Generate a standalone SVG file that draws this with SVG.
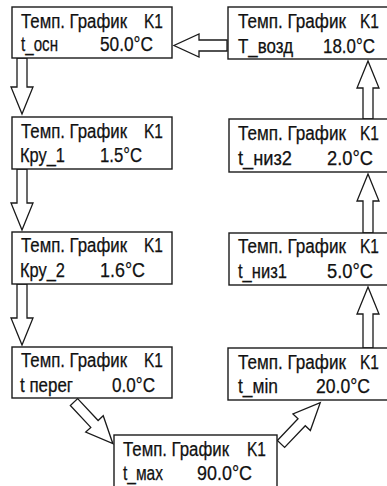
<svg xmlns="http://www.w3.org/2000/svg" width="387" height="486" viewBox="0 0 387 486">
<defs>
<style>
.box{fill:#fff;stroke:#1a1a1a;stroke-width:1.4}
.t{font-family:"Liberation Sans",Arial,sans-serif;font-size:19.5px;fill:#111;stroke:#111;stroke-width:0.25}
.ar{fill:#fff;stroke:#1a1a1a;stroke-width:1.3;stroke-linejoin:miter}
</style>
<path id="darr" d="M0,-5 L30,-5 L30,-12 L57,0 L30,12 L30,5 L0,5 Z"/>
</defs>
<rect width="387" height="486" fill="#fff"/>
<g id="connectors">
<polygon class="ar" points="17,58 27,58 27,87 33,87 22,114 11,87 17,87"/>
<polygon class="ar" points="17,169 27,169 27,203 33,203 22,230 11,203 17,203"/>
<polygon class="ar" points="17,284 27,284 27,318 33,318 22,345 11,318 17,318"/>
<polygon class="ar" points="363,119 373,119 373,88 379,88 368,61 357,88 363,88"/>
<polygon class="ar" points="363,233 373,233 373,201 379,201 368,174 357,201 363,201"/>
<polygon class="ar" points="363,348 373,348 373,314 379,314 368,287 357,314 363,314"/>
<polygon class="ar" points="227,40 199,40 199,34 174,45.5 199,57 199,51 227,51"/>
<use href="#darr" class="ar" transform="translate(74,402) rotate(47)"/>
<use href="#darr" class="ar" transform="translate(281,444) rotate(-46.5)"/>
</g>
<g id="n_tosn">
<rect class="box" x="12" y="7" width="160" height="51"/>
<text class="t" x="21" y="28" textLength="106" lengthAdjust="spacingAndGlyphs">Темп. График</text>
<text class="t" x="144" y="28" textLength="19" lengthAdjust="spacingAndGlyphs">K1</text>
<text class="t" x="21" y="51" textLength="37" lengthAdjust="spacingAndGlyphs">t_осн</text>
<text class="t" x="100" y="51" textLength="53" lengthAdjust="spacingAndGlyphs">50.0°C</text>
</g>
<g id="n_kru1">
<rect class="box" x="12" y="117" width="160" height="52"/>
<text class="t" x="21" y="138" textLength="106" lengthAdjust="spacingAndGlyphs">Темп. График</text>
<text class="t" x="144" y="138" textLength="19" lengthAdjust="spacingAndGlyphs">K1</text>
<text class="t" x="20" y="162" textLength="45" lengthAdjust="spacingAndGlyphs">Кру_1</text>
<text class="t" x="100" y="162" textLength="42" lengthAdjust="spacingAndGlyphs">1.5°C</text>
</g>
<g id="n_kru2">
<rect class="box" x="12" y="232" width="160" height="52"/>
<text class="t" x="21" y="252" textLength="106" lengthAdjust="spacingAndGlyphs">Темп. График</text>
<text class="t" x="144" y="252" textLength="19" lengthAdjust="spacingAndGlyphs">K1</text>
<text class="t" x="20" y="277" textLength="45" lengthAdjust="spacingAndGlyphs">Кру_2</text>
<text class="t" x="100" y="277" textLength="45" lengthAdjust="spacingAndGlyphs">1.6°C</text>
</g>
<g id="n_tpereg">
<rect class="box" x="12" y="347" width="160" height="51"/>
<text class="t" x="21" y="367" textLength="106" lengthAdjust="spacingAndGlyphs">Темп. График</text>
<text class="t" x="144" y="367" textLength="19" lengthAdjust="spacingAndGlyphs">K1</text>
<text class="t" x="20" y="392" textLength="53" lengthAdjust="spacingAndGlyphs">t перег</text>
<text class="t" x="112" y="392" textLength="43" lengthAdjust="spacingAndGlyphs">0.0°C</text>
</g>
<g id="n_tmax">
<rect class="box" x="114" y="435" width="163" height="60"/>
<text class="t" x="123" y="456" textLength="106" lengthAdjust="spacingAndGlyphs">Темп. График</text>
<text class="t" x="247" y="456" textLength="19" lengthAdjust="spacingAndGlyphs">K1</text>
<text class="t" x="123" y="480" textLength="40" lengthAdjust="spacingAndGlyphs">t_мах</text>
<text class="t" x="197" y="480" textLength="55" lengthAdjust="spacingAndGlyphs">90.0°C</text>
</g>
<g id="n_tmin">
<rect class="box" x="228" y="348" width="165" height="52"/>
<text class="t" x="238" y="369" textLength="108" lengthAdjust="spacingAndGlyphs">Темп. График</text>
<text class="t" x="360" y="369" textLength="19" lengthAdjust="spacingAndGlyphs">K1</text>
<text class="t" x="238" y="393" textLength="40" lengthAdjust="spacingAndGlyphs">t_мin</text>
<text class="t" x="316" y="393" textLength="54" lengthAdjust="spacingAndGlyphs">20.0°C</text>
</g>
<g id="n_tniz1">
<rect class="box" x="229" y="233" width="164" height="52"/>
<text class="t" x="238" y="253" textLength="108" lengthAdjust="spacingAndGlyphs">Темп. График</text>
<text class="t" x="360" y="253" textLength="19" lengthAdjust="spacingAndGlyphs">K1</text>
<text class="t" x="238" y="278" textLength="49" lengthAdjust="spacingAndGlyphs">t_низ1</text>
<text class="t" x="327" y="278" textLength="46" lengthAdjust="spacingAndGlyphs">5.0°C</text>
</g>
<g id="n_tniz2">
<rect class="box" x="229" y="119" width="164" height="53"/>
<text class="t" x="238" y="140" textLength="108" lengthAdjust="spacingAndGlyphs">Темп. График</text>
<text class="t" x="360" y="140" textLength="19" lengthAdjust="spacingAndGlyphs">K1</text>
<text class="t" x="238" y="165" textLength="54" lengthAdjust="spacingAndGlyphs">t_низ2</text>
<text class="t" x="327" y="165" textLength="46" lengthAdjust="spacingAndGlyphs">2.0°C</text>
</g>
<g id="n_tvozd">
<rect class="box" x="228" y="7" width="165" height="52"/>
<text class="t" x="238" y="28" textLength="108" lengthAdjust="spacingAndGlyphs">Темп. График</text>
<text class="t" x="360" y="28" textLength="19" lengthAdjust="spacingAndGlyphs">K1</text>
<text class="t" x="238" y="53" textLength="55" lengthAdjust="spacingAndGlyphs">T_возд</text>
<text class="t" x="323" y="53" textLength="52" lengthAdjust="spacingAndGlyphs">18.0°C</text>
</g>
</svg>
